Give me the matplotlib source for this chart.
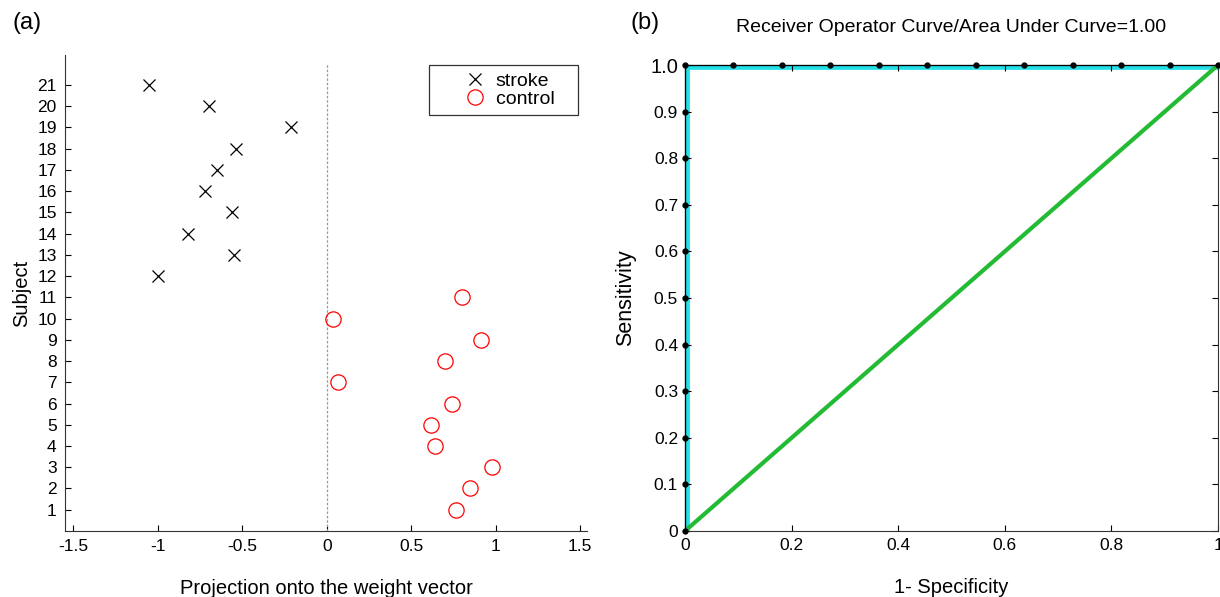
import numpy as np
import matplotlib
matplotlib.use("Agg")
import matplotlib.pyplot as plt

plt.rcParams['font.family'] = ['Liberation Sans', 'DejaVu Sans']

# panel (a) data: projection onto the weight vector per subject
stroke_subj = [21, 20, 19, 18, 17, 16, 15, 14, 13, 12]
stroke_proj = [-1.05, -0.70, -0.21, -0.54, -0.65, -0.72, -0.56, -0.82, -0.55, -1.00]
control_subj = [11, 10, 9, 8, 7, 6, 5, 4, 3, 2, 1]
control_proj = [0.80, 0.035, 0.91, 0.70, 0.065, 0.74, 0.615, 0.64, 0.98, 0.85, 0.765]

# panel (b) data: ROC points
roc_fpr = [0.0] * 11 + [i / 11 for i in range(1, 12)]
roc_tpr = [i / 10 for i in range(11)] + [1.0] * 11
chance = [0, 1]

fig = plt.figure(figsize=(12.2, 5.97), dpi=100)

# ---- (a)
ax1 = fig.add_axes([0.0533, 0.1106, 0.4279, 0.797])
ax1.plot([0, 0], [0, 22], linestyle=(0, (2, 1.5)), color='#999999', linewidth=0.9)
ax1.plot(stroke_proj, stroke_subj, linestyle='none', marker='x', markersize=8,
         markeredgewidth=0.9, color='black', label='stroke')
ax1.plot(control_proj, control_subj, linestyle='none', marker='o', markersize=11,
         markerfacecolor='none', markeredgewidth=0.9, markeredgecolor='red', label='control   ')
ax1.set_xlim(-1.55, 1.54)
ax1.set_ylim(0, 22.4)
ax1.set_xticks([-1.5, -1, -0.5, 0, 0.5, 1, 1.5])
ax1.set_xticklabels(['-1.5', '-1', '-0.5', '0', '0.5', '1', '1.5'])
ax1.set_yticks(range(1, 22))
ax1.spines['top'].set_visible(False)
ax1.spines['right'].set_visible(False)
for s in ['left', 'bottom']:
    ax1.spines[s].set_color('#333333')
ax1.tick_params(direction='in', length=4, labelsize=12.5, pad=6)
ax1.set_xlabel('Projection onto the weight vector', fontsize=14.5, labelpad=18)
ax1.set_ylabel('Subject', fontsize=14.5, labelpad=4)
leg = ax1.legend(loc='upper right', bbox_to_anchor=(0.983, 0.98), fontsize=14,
                 fancybox=False, edgecolor='#333333', framealpha=1,
                 handletextpad=-0.9, borderpad=0.4, labelspacing=0.0,
                 handlelength=3.9, borderaxespad=0)
leg.get_frame().set_linewidth(0.9)
fig.text(0.010, 0.961, '(a)', fontsize=17, va='center')

# ---- (b)
ax2 = fig.add_axes([0.5615, 0.1106, 0.4369, 0.7805])
ax2.plot(roc_fpr, roc_tpr, color='#22e0e8', linewidth=7, zorder=1)
ax2.plot(chance, chance, color='#22bb33', linewidth=3, zorder=2)
ax2.plot(roc_fpr, roc_tpr, color='black', linewidth=0.9, marker='o', markersize=3.5,
         zorder=3, clip_on=False)
ax2.set_xlim(0, 1)
ax2.set_ylim(0, 1)
ax2.set_xticks([0, 0.2, 0.4, 0.6, 0.8, 1])
ax2.set_xticklabels(['0', '0.2', '0.4', '0.6', '0.8', '1'])
ax2.set_yticks([i / 10 for i in range(11)])
ax2.set_yticklabels(['0'] + ['0.%d' % i for i in range(1, 10)] + ['1.0'])
for s in ax2.spines.values():
    s.set_color('#333333')
ax2.tick_params(direction='in', length=4, labelsize=12.5, top=True, right=True, pad=5)
ax2.get_yticklabels()[-1].set_fontsize(14.5)
ax2.set_xlabel('1- Specificity', fontsize=14.5, labelpad=18)
ax2.set_ylabel('Sensitivity', fontsize=15.5, labelpad=10)
ax2.set_title('Receiver Operator Curve/Area Under Curve=1.00', fontsize=14, pad=24)
fig.text(0.517, 0.961, '(b)', fontsize=17, va='center')

fig.savefig('out.png', dpi=100)
